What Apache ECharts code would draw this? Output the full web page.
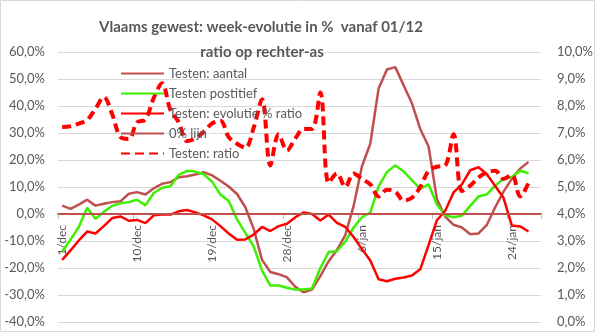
<!DOCTYPE html>
<html>
<head>
<meta charset="utf-8">
<script src="https://cdn.jsdelivr.net/npm/echarts@6/dist/echarts.min.js"></script>
<style>
  html, body { margin: 0; padding: 0; background: #fff; }
  #chart { width: 595px; height: 332px; }
</style>
</head>
<body>
<div id="chart"></div>
<script>
// Days from 1 December to 27 January
const dates = [
  '1/dec','2/dec','3/dec','4/dec','5/dec','6/dec','7/dec','8/dec','9/dec','10/dec',
  '11/dec','12/dec','13/dec','14/dec','15/dec','16/dec','17/dec','18/dec','19/dec','20/dec',
  '21/dec','22/dec','23/dec','24/dec','25/dec','26/dec','27/dec','28/dec','29/dec','30/dec',
  '31/dec','1/jan','2/jan','3/jan','4/jan','5/jan','6/jan','7/jan','8/jan','9/jan',
  '10/jan','11/jan','12/jan','13/jan','14/jan','15/jan','16/jan','17/jan','18/jan','19/jan',
  '20/jan','21/jan','22/jan','23/jan','24/jan','25/jan','26/jan','27/jan'
];

// Week-over-week evolution (%), left axis
const testenAantal = [
  3.1, 1.9, 3.5, 5.3, 3.1, 3.8, 4.4, 4.7, 7.5, 8.1,
  7.2, 9.5, 11.2, 11.8, 13.6, 14.0, 14.6, 15.5, 14.3, 12.3,
  10.2, 7.4, 2.5, -5.5, -17.0, -21.5, -22.3, -23.5, -27.0, -29.0,
  -28.0, -23.0, -17.5, -13.3, -7.8, 3.0, 17.7, 26.0, 46.5, 53.5,
  54.4, 47.7, 41.0, 31.5, 25.0, 5.5, -1.0, -4.0, -5.0, -7.5,
  -7.2, -4.0, 2.5, 8.3, 13.0, 16.8, 19.3
];
const testenPositief = [
  -14.0, -9.5, -4.8, 2.3, -1.8, 0.8, 3.0, 4.0, 4.4, 5.3,
  3.2, 7.8, 9.7, 10.3, 14.5, 16.0, 15.7, 14.7, 12.0, 7.2,
  4.8, -2.0, -7.0, -12.0, -21.0, -26.5, -26.5, -27.3, -28.0, -28.0,
  -27.6, -20.0, -14.1, -13.8, -10.2, -5.0, -1.2, 0.5, 10.2, 15.5,
  18.0, 15.8, 12.5, 9.3, 11.0, 3.5, -0.5, -1.2, -0.6, 3.0,
  6.5, 7.3, 10.5, 13.0, 13.7, 16.0, 15.1
];
const testenEvolutieRatio = [
  -17.0, -13.5, -9.8, -6.5, -7.2, -4.5, -1.5, -0.9, -2.5, -2.2,
  -3.4, -0.5, -0.2, -0.2, 1.0, 1.5, 0.6, -0.5, -2.0, -4.5,
  -7.2, -9.5, -9.4, -7.6, -4.8, -6.3, -4.5, -3.6, -1.2, 0.6,
  0.0, -2.4, -0.2, -3.3, -4.8, -8.5, -13.0, -17.2, -24.2, -24.9,
  -24.0, -23.5, -22.8, -20.5, -11.5, -2.3, 1.2, 8.0, 11.0, 16.2,
  17.3, 14.7, 10.4, 6.0, -4.3, -4.6, -6.5
];
const nulLijn = dates.map(() => 0);

// Positivity ratio (%), right axis
const testenRatio = [
  7.22, 7.25, 7.35, 7.48, 7.9, 8.33, 7.7, 6.85, 6.78, 7.4,
  7.5, 8.3, 8.84, 7.85, 7.4, 6.7, 6.8, 7.05, 7.35, 7.45,
  6.85, 6.6, 6.45, 7.2, 8.25, 5.8, 6.95, 6.35, 6.8, 7.15,
  7.15, 8.5, 5.15, 5.5, 5.0, 5.5, 5.3, 5.1, 4.65, 4.9,
  4.83, 4.5, 4.6, 5.0, 5.6, 5.75, 5.8, 6.95, 4.85, 5.05,
  5.35, 5.55, 5.6, 5.3, 5.45, 4.65, 5.15
];

const titleLines = ['Vlaams gewest: week-evolutie in %  vanaf 01/12', 'ratio op rechter-as'];

const TEXT = '#595959';
const FONT = 'Lato, "Open Sans", sans-serif';
const LEFT_MIN = -40, LEFT_MAX = 60;
const pct = v => v.toFixed(1).replace('.', ',') + '%';

const chart = echarts.init(document.getElementById('chart'), null, { renderer: 'canvas' });

chart.setOption({
  animation: false,
  backgroundColor: '#fff',
  textStyle: { fontFamily: FONT },
  graphic: [
    { type: 'rect', shape: { x: 0.5, y: 0.5, width: 594, height: 331 },
      style: { fill: 'none', stroke: '#d9d9d9', lineWidth: 1 }, silent: true, z: -10 },
    { type: 'text', x: 261, y: 27, z: 10,
      style: { text: titleLines[0], align: 'center', verticalAlign: 'middle',
               fill: TEXT, font: 'bold 15px ' + FONT } },
    { type: 'text', x: 262, y: 52, z: 10,
      style: { text: titleLines[1], align: 'center', verticalAlign: 'middle',
               fill: TEXT, font: 'bold 15px ' + FONT } }
  ],
  legend: {
    orient: 'vertical',
    left: 115,
    top: 62,
    itemWidth: 43,
    itemHeight: 14,
    itemGap: 7,
    backgroundColor: 'transparent',
    itemStyle: { color: 'transparent', borderWidth: 0, opacity: 0 },
    textStyle: { color: TEXT, fontSize: 13, fontFamily: FONT },
    data: ['Testen: aantal', 'Testen postitief', 'Testen: evolutie % ratio', '0% lijn', 'Testen: ratio']
  },
  grid: { left: 58, right: 54, top: 52, bottom: 10, containLabel: false, outerBoundsMode: 'none' },
  xAxis: {
    type: 'category',
    data: dates,
    boundaryGap: true,
    position: 'bottom',
    offset: 0,
    axisLine: { onZero: false, lineStyle: { color: '#c0504d', width: 2 } },
    axisTick: { show: true, interval: 8, length: 5, lineStyle: { color: '#bfbfbf' } },
    axisLabel: { interval: 8, rotate: 90, margin: 11, color: TEXT, fontSize: 12, fontFamily: FONT },
    splitLine: { show: false }
  },
  yAxis: [
    {
      type: 'value', min: LEFT_MIN, max: LEFT_MAX, interval: 10,
      axisLine: { show: false }, axisTick: { show: false },
      axisLabel: { formatter: pct, color: TEXT, fontSize: 13, margin: 13, fontFamily: FONT,
                   showMinLabel: true, showMaxLabel: true },
      splitLine: { lineStyle: { color: '#d9d9d9', width: 1 } }
    },
    {
      type: 'value', min: 0, max: 10, interval: 1,
      axisLine: { show: false }, axisTick: { show: false },
      axisLabel: { formatter: pct, color: TEXT, fontSize: 13, margin: 16, fontFamily: FONT,
                   showMinLabel: true, showMaxLabel: true },
      splitLine: { show: false }
    }
  ],
  series: [
    { name: 'Testen: aantal', type: 'line', data: testenAantal, yAxisIndex: 0,
      symbol: 'none', color: '#c0504d', lineStyle: { color: '#c0504d', width: 2.5 } },
    { name: 'Testen postitief', type: 'line', data: testenPositief, yAxisIndex: 0,
      symbol: 'none', color: '#3cf000', lineStyle: { color: '#3cf000', width: 2.5 } },
    { name: 'Testen: evolutie % ratio', type: 'line', data: testenEvolutieRatio, yAxisIndex: 0,
      symbol: 'none', color: '#ff0000', lineStyle: { color: '#ff0000', width: 2.5 } },
    { name: '0% lijn', type: 'line', data: nulLijn, yAxisIndex: 0,
      symbol: 'none', color: '#c0504d', lineStyle: { color: '#c0504d', width: 2 } },
    { name: 'Testen: ratio', type: 'line', data: testenRatio, yAxisIndex: 1,
      symbol: 'none', smooth: 0.35, color: '#ff0000',
      lineStyle: { color: '#ff0000', width: 4, type: [9, 5] } }
  ]
});

// Lift the date axis (line, ticks, labels) up to the 0% level of the left scale
const yZero = chart.convertToPixel({ yAxisIndex: 0 }, 0);
const yBottom = chart.convertToPixel({ yAxisIndex: 0 }, LEFT_MIN);
chart.setOption({ xAxis: { offset: yZero - yBottom } });
</script>
</body>
</html>
